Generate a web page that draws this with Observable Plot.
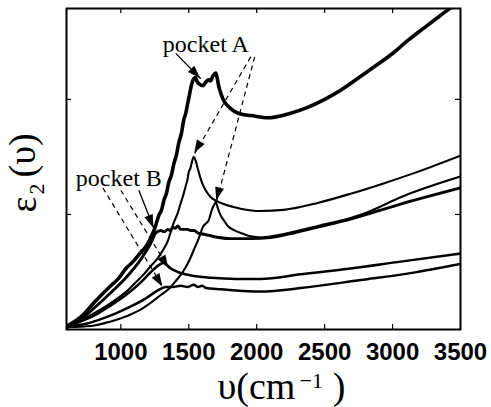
<!DOCTYPE html>
<html>
<head>
<meta charset="utf-8">
<script src="https://cdn.jsdelivr.net/npm/d3@7"></script>
<script src="https://cdn.jsdelivr.net/npm/@observablehq/plot@0.6"></script>
<style>
  html, body { margin: 0; padding: 0; background: #fff; }
  g[aria-label="pocket"] text { letter-spacing: 2.2px; }
</style>
</head>
<body>
<div id="chart"></div>
<script>
// ---- data (wavenumber in cm^-1, epsilon_2 in arbitrary units) ----
const xTicks = [1000, 1500, 2000, 2500, 3000, 3500];
const yTicks = [1, 2];

const nu1 = [603,706,816,926,980,1037,1090,1147,1190,1221,1250,1279,1300,1316,1335,1353,1372,1390,1410,1426,1445,1463,1478,1493,1505,1515,1537,1550,1559,1581,1603,1625,1647,1660,1676,1699,1710,1721,1740,1757,1790,1831,1890,1956,2081,2250,2375,2500,2618,2740,2860,2990,3110,3230,3353,3500];
const eps1 = [0.03,0.11,0.25,0.38,0.44,0.53,0.59,0.67,0.73,0.80,0.88,0.99,1.04,1.12,1.18,1.28,1.34,1.44,1.52,1.62,1.70,1.82,1.88,1.97,2.04,2.10,2.18,2.19,2.16,2.13,2.12,2.15,2.17,2.16,2.20,2.23,2.18,2.11,2.04,1.99,1.94,1.90,1.87,1.86,1.84,1.88,1.93,2.00,2.08,2.18,2.28,2.39,2.51,2.62,2.73,2.86];

const nu2 = [610,684,801,926,1051,1110,1169,1220,1272,1310,1346,1370,1390,1415,1441,1460,1478,1490,1500,1512,1522,1537,1550,1566,1585,1603,1630,1662,1700,1757,1882,2029,2199,2449,2691,2934,3184,3500];
const eps2 = [0.04,0.07,0.14,0.23,0.34,0.41,0.48,0.55,0.62,0.69,0.77,0.86,0.93,1.00,1.10,1.17,1.25,1.30,1.37,1.40,1.45,1.50,1.47,1.40,1.32,1.26,1.20,1.15,1.12,1.09,1.05,1.03,1.04,1.10,1.18,1.27,1.37,1.51];

const nu3 = [610,706,816,926,1037,1147,1221,1257,1294,1320,1346,1365,1382,1400,1419,1440,1463,1490,1515,1540,1566,1600,1640,1720,1809,1956,2100,2199,2449,2691,3059,3500];
const eps3 = [0.02,0.09,0.20,0.32,0.45,0.61,0.75,0.84,0.86,0.85,0.87,0.86,0.89,0.88,0.90,0.87,0.87,0.87,0.86,0.86,0.84,0.83,0.82,0.80,0.79,0.79,0.80,0.82,0.89,0.96,1.09,1.23];

const nu4 = [610,779,926,1051,1169,1240,1294,1330,1368,1410,1456,1490,1515,1540,1566,1585,1603,1625,1647,1665,1676,1690,1699,1710,1721,1740,1757,1787,1840,1904,1956,2029,2199,2449,2691,2816,3059,3500];
const eps4 = [0.02,0.03,0.07,0.12,0.19,0.25,0.30,0.33,0.37,0.43,0.50,0.57,0.63,0.70,0.77,0.83,0.89,0.92,0.95,1.02,1.06,1.09,1.11,1.07,1.03,0.98,0.95,0.90,0.86,0.83,0.81,0.80,0.83,0.90,0.97,1.02,1.15,1.33];

const nu5 = [610,706,816,926,1037,1147,1221,1279,1316,1340,1368,1419,1515,1662,1850,2029,2324,2691,3059,3500];
const eps5 = [0.03,0.07,0.13,0.21,0.30,0.41,0.50,0.56,0.58,0.56,0.53,0.50,0.47,0.45,0.44,0.44,0.48,0.53,0.59,0.66];

const nu6 = [610,743,853,963,1074,1184,1272,1331,1382,1441,1493,1537,1566,1600,1625,1735,2029,2324,2765,3132,3500];
const eps6 = [0.03,0.05,0.09,0.14,0.20,0.27,0.34,0.37,0.37,0.38,0.37,0.39,0.37,0.38,0.36,0.35,0.33,0.36,0.43,0.49,0.57];

// annotations
const annText = ["pocket A", "pocket B"];
const annX = [1309, 669];
const annY = [2.41, 1.25];

const arrowX1 = [1404, 1956, 1985, 1132, 1000, 868];
const arrowY1 = [2.40, 2.37, 2.37, 1.21, 1.21, 1.23];
const arrowX2 = [1588, 1544, 1706, 1243, 1353, 1309];
const arrowY2 = [2.18, 1.53, 1.12, 0.88, 0.53, 0.37];
const arrowDashed = [false, true, true, false, true, true];

// ---- build tables ----
const series = [
  {nu: nu1, eps: eps1, w: 3.6},
  {nu: nu2, eps: eps2, w: 2.1},
  {nu: nu3, eps: eps3, w: 2.9},
  {nu: nu4, eps: eps4, w: 2.1},
  {nu: nu5, eps: eps5, w: 2.5},
  {nu: nu6, eps: eps6, w: 2.5}
];
const arrows = arrowX1.map((x1, i) => ({x1, y1: arrowY1[i], x2: arrowX2[i], y2: arrowY2[i], dashed: arrowDashed[i]}));
const labels = annText.map((t, i) => ({t, x: annX[i], y: annY[i]}));

const serif = "Liberation Serif, Times New Roman, serif";
const sans = "Liberation Sans, Arial, Helvetica, sans-serif";

const lineMarks = series.map(s => Plot.line(s.nu.map((v, i) => ({v, e: s.eps[i]})), {
  x: "v", y: "e", curve: "monotone-x", stroke: "black", strokeWidth: s.w,
  strokeLinejoin: "round", strokeLinecap: "round", clip: true
}));

// filled arrow heads, positioned with the plot's own scales
const arrowHeads = (index, scales) => {
  const g = d3.create("svg:g").attr("fill", "black");
  for (const a of arrows) {
    const x1 = scales.x(a.x1), y1 = scales.y(a.y1), x2 = scales.x(a.x2), y2 = scales.y(a.y2);
    const ang = Math.atan2(y2 - y1, x2 - x1);
    const L = 13, W = 4.5;
    const bx = x2 - L * Math.cos(ang), by = y2 - L * Math.sin(ang);
    const px = -Math.sin(ang) * W, py = Math.cos(ang) * W;
    g.append("path").attr("d", `M${x2},${y2}L${bx + px},${by + py}L${bx - px},${by - py}Z`);
  }
  return g.node();
};

const chart = Plot.plot({
  width: 491,
  height: 407,
  marginLeft: 66,
  marginRight: 31,
  marginTop: 8,
  marginBottom: 78,
  style: {background: "white", color: "black", fontFamily: sans},
  x: {domain: [600, 3500]},
  y: {domain: [0, 2.79], axis: null},
  marks: [
    ...lineMarks,
    Plot.link(arrows.filter(d => !d.dashed), {x1: "x1", y1: "y1", x2: "x2", y2: "y2", stroke: "black", strokeWidth: 1.3}),
    Plot.link(arrows.filter(d => d.dashed), {x1: "x1", y1: "y1", x2: "x2", y2: "y2", stroke: "black", strokeWidth: 1.2, strokeDasharray: "5,4"}),
    arrowHeads,
    Plot.text(labels, {x: "x", y: "y", text: "t", textAnchor: "start", lineAnchor: "bottom", fontSize: 24, fontFamily: serif, fill: "black", ariaLabel: "pocket"}),
    // inward ticks
    Plot.tickX(xTicks.filter(d => d < 3500), {x: d => d, insetTop: 316, stroke: "black", strokeWidth: 1.2}),
    Plot.tickX(xTicks.filter(d => d < 3500), {x: d => d, insetBottom: 316, stroke: "black", strokeWidth: 1.2}),
    Plot.tickY(yTicks, {y: d => d, insetRight: 389, stroke: "black", strokeWidth: 1.2}),
    Plot.tickY(yTicks, {y: d => d, insetLeft: 389, stroke: "black", strokeWidth: 1.2}),
    Plot.frame({stroke: "black", strokeWidth: 2}),
    Plot.axisX(xTicks, {tickSize: 0, tickPadding: 13, tickFormat: d => String(d), fontSize: 24, fontWeight: "bold", fontFamily: sans, label: null, fill: "black"}),
    // x axis title  υ(cm^-1)
    Plot.text(["υ(cm"], {frameAnchor: "bottom-left", dx: 151, dy: 69, textAnchor: "start", lineAnchor: "bottom", fontSize: 38, fontFamily: serif, fill: "black"}),
    Plot.text(["−1"], {frameAnchor: "bottom-left", dx: 233, dy: 58, textAnchor: "start", lineAnchor: "bottom", fontSize: 22, fontFamily: serif, fill: "black"}),
    Plot.text([")"], {frameAnchor: "bottom-left", dx: 279, dy: 69, textAnchor: "end", lineAnchor: "bottom", fontSize: 38, fontFamily: serif, fill: "black"}),
    // y axis title  ε2(υ)
    Plot.text(["ε"], {frameAnchor: "top-left", dx: -31, dy: 204, rotate: -90, textAnchor: "start", lineAnchor: "bottom", fontSize: 38, fontFamily: serif, fill: "black"}),
    Plot.text(["2"], {frameAnchor: "top-left", dx: -23, dy: 186, rotate: -90, textAnchor: "start", lineAnchor: "bottom", fontSize: 22, fontFamily: serif, fill: "black"}),
    Plot.text(["(υ)"], {frameAnchor: "top-left", dx: -32, dy: 169, rotate: -90, textAnchor: "start", lineAnchor: "bottom", fontSize: 38, fontFamily: serif, fill: "black"})
  ]
});
document.getElementById("chart").appendChild(chart);
</script>
</body>
</html>
